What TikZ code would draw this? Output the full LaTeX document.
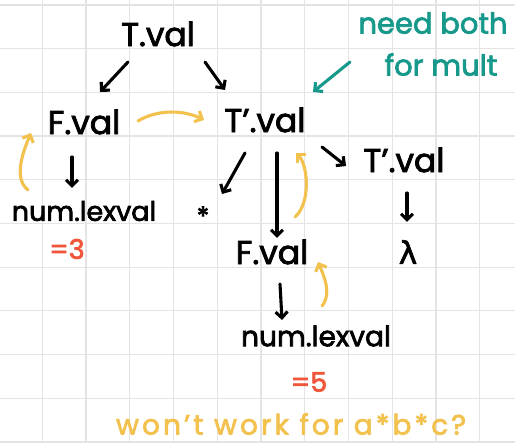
\documentclass[tikz,border=0pt]{standalone}
\usepackage{fontspec}
\setmainfont{Poppins}
\newfontfamily\hand[FakeBold=2.5]{Poppins}
\newfontfamily\handgr[FakeBold=2]{DejaVu Sans}
\usetikzlibrary{arrows.meta,calc}
\definecolor{gridc}{HTML}{E4E4E4}
\definecolor{teal}{HTML}{16998A}
\definecolor{yel}{HTML}{F2C14E}
\definecolor{redc}{HTML}{F0563A}
\begin{document}
\begin{tikzpicture}[x=1pt,y=-1pt,
  lbl/.style={font=\hand\fontsize{33}{36}\selectfont, inner sep=0pt},
  small/.style={font=\hand\fontsize{27}{30}\selectfont, inner sep=0pt},
  arr/.style={line width=3.1pt, line cap=round, line join=round, -{Straight Barb[length=6pt,width=12pt]}},
  yarr/.style={arr, draw=yel},
  tarr/.style={arr, draw=teal},
]
\fill[white] (0,0) rectangle (515,443);
\useasboundingbox (0,0) rectangle (515,443);
\foreach \k in {0,...,10} {
  \draw[gridc, line width=1.2pt] ({42.3+43.75*\k},0) -- ({42.3+43.75*\k},443);
  \draw[gridc, line width=1.2pt] (0,{5+43.7*\k}) -- (515,{5+43.7*\k});
}
% nodes
\node[lbl] (tval) at (158,34) {T.val};
\node[lbl] (fval) at (84,122) {F.val};
\node[lbl] (tp) at (265,120) {T’.val};
\node[lbl] (tp2) at (404,160) {T’.val};
\node[small] (numl) at (84,211) {num.lexval};
\node[lbl, font=\hand\fontsize{26}{28}\selectfont] (star) at (203,216) {*};
\node[lbl] (fmid) at (272,252) {F.val};
\node[lbl, font=\handgr\fontsize{31}{34}\selectfont] (lam) at (408,252) {λ};
\node[small, font=\hand\fontsize{28}{30}\selectfont] (numm) at (316,336) {num.lexval};
\node[small, text=redc] (eq3) at (67,249) {=3};
\node[small, text=redc] (eq5) at (309,382) {=5};
\node[small, font=\hand\fontsize{29}{42}\selectfont, text=teal, align=center] (note) at (433,44) {need both\\\hspace*{16pt}for mult};
\node[small, font=\hand\fontsize{28}{30}\selectfont\addfontfeature{LetterSpace=11}, text=yel] (q) at (291,424) {won’t work for a*b*c?};
% black connectors
\draw[arr] ([shift={(-30,28)}]tval.center) -- ([shift={(16,-30)}]fval.center);
\draw[arr] ([shift={(47,28)}]tval.center) -- ([shift={(-40,-30)}]tp.center);
\draw[arr] ([shift={(-12,35)}]fval.center) -- ([shift={(-12,-23)}]numl.center);
\draw[arr] ([shift={(-20,33)}]tp.center) -- ([shift={(19,-22)}]star.center);
\draw[arr] ([shift={(12,33)}]tp.center) -- ([shift={(5,-14)}]fmid.center);
\draw[arr] ([shift={(57,27)}]tp.center) -- ([shift={(-58,6)}]tp2.center);
\draw[arr] ([shift={(3,33)}]tp2.center) -- ([shift={(-1,-30)}]lam.center);
\draw[arr] ([shift={(8,32)}]fmid.center) -- ([shift={(-34,-16)}]numm.center);
% yellow connectors
\draw[yarr] ([shift={(54,-1)}]fval.center) .. controls +(20,-12) and +(-20,-10) .. ([shift={(-61,0)}]tp.center);
\draw[yarr] ([shift={(-56,-21)}]numl.center) .. controls +(-16,-12) and +(-6,14) .. ([shift={(-53,11)}]fval.center);
\draw[yarr] ([shift={(23,-35)}]fmid.center) .. controls +(16,-14) and +(12,12) .. ([shift={(31,33)}]tp.center);
\draw[yarr] ([shift={(6,-30)}]numm.center) .. controls +(10,-12) and +(6,14) .. ([shift={(46,10)}]fmid.center);
% teal connector
\draw[tarr] ([shift={(-83,18)}]note.center) -- ([shift={(48,-28)}]tp.center);
\end{tikzpicture}
\end{document}
